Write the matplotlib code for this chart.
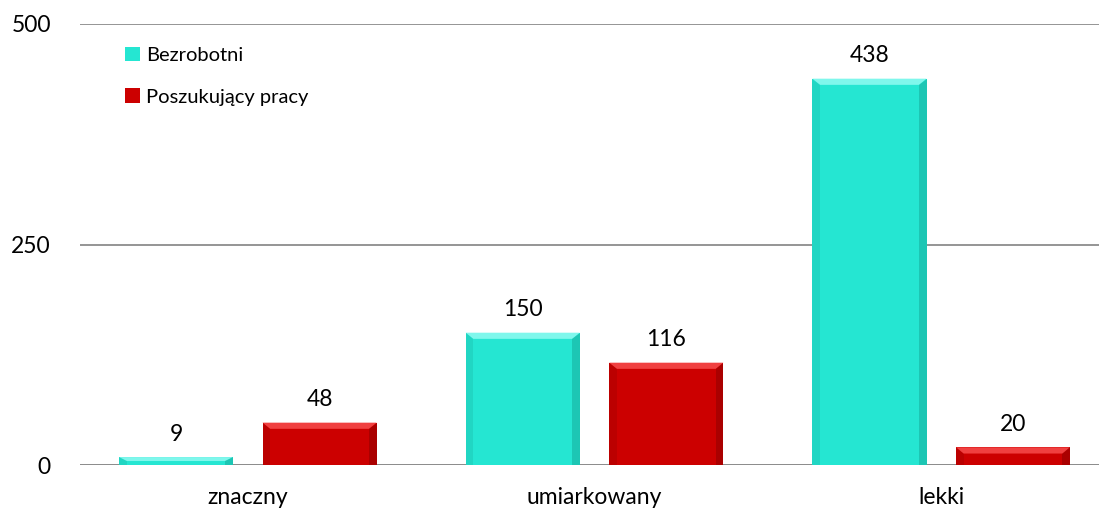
import matplotlib.pyplot as plt
import matplotlib.patches as mpatches
import numpy as np

plt.rcParams['font.family'] = ['Lato', 'DejaVu Sans']

categories = ['znaczny', 'umiarkowany', 'lekki']
bezrobotni = [9, 150, 438]
poszukujacy = [48, 116, 20]
series_names = ['Bezrobotni', 'Poszukujący pracy']
colors = ['#25E6D2', '#CC0000']
light = ['#7FF7EC', '#F04040']
dark = ['#17A898', '#8A0000']

fig = plt.figure(figsize=(10.99, 5.13), dpi=100)
ax = fig.add_axes([80 / 1099, 48 / 513, 1 - 80 / 1099, 441 / 513])

x = np.arange(len(categories))
w = 0.329
off = 0.207


def bevel(bars, c, lt, dk):
    for r in bars:
        x0, y0 = r.get_x(), r.get_y()
        bw, bh = r.get_width(), r.get_height()
        # bevel size in data units
        bx = 0.022
        by = min(7, bh / 2)
        # top highlight
        ax.add_patch(mpatches.Polygon([[x0, y0 + bh], [x0 + bw, y0 + bh],
                                       [x0 + bw - bx, y0 + bh - by], [x0 + bx, y0 + bh - by]],
                                      closed=True, color=lt, lw=0, zorder=3))
        # right shade
        ax.add_patch(mpatches.Polygon([[x0 + bw, y0 + bh], [x0 + bw, y0],
                                       [x0 + bw - bx, y0], [x0 + bw - bx, y0 + bh - by]],
                                      closed=True, color=dk, lw=0, zorder=3, alpha=0.5))
        # left shade
        ax.add_patch(mpatches.Polygon([[x0, y0 + bh], [x0, y0],
                                       [x0 + bx, y0], [x0 + bx, y0 + bh - by]],
                                      closed=True, color=dk, lw=0, zorder=3, alpha=0.25))


b1 = ax.bar(x - off, bezrobotni, w, color=colors[0], zorder=2, label=series_names[0])
b2 = ax.bar(x + off, poszukujacy, w, color=colors[1], zorder=2, label=series_names[1])
bevel(b1, colors[0], light[0], dark[0])
bevel(b2, colors[1], light[1], dark[1])

for bars in (b1, b2):
    ax.bar_label(bars, padding=9, fontsize=16.5, color='#000000')

ax.set_ylim(0, 500)
ax.set_xlim(-0.484, 2.455)
ax.set_yticks([0, 250, 500])
ax.set_yticklabels(['0', '250', '500'], fontsize=16.5)
ax.set_xticks(x)
ax.set_xticklabels(categories, fontsize=16.5)
ax.tick_params(axis='y', length=0, pad=21)
ax.tick_params(axis='x', length=0, pad=16)
ax.grid(axis='y', color='#8C8C8C', lw=1.3, zorder=0)
for s in ax.spines.values():
    s.set_visible(False)
ax.axhline(0, color='#8C8C8C', lw=1.3, zorder=1)

ax.legend(loc='upper left', bbox_to_anchor=(0.026, 0.99), frameon=False, fontsize=14.5,
          handlelength=0.75, handleheight=0.75, handletextpad=0.3, labelspacing=1.2)

fig.savefig('out.png', dpi=100)
